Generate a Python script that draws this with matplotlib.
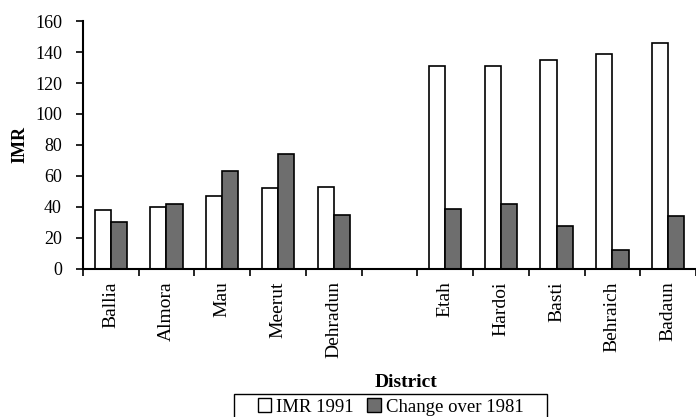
import matplotlib
matplotlib.use("Agg")
import matplotlib.pyplot as plt
import matplotlib.patches as mpatches
import numpy as np

# data; "" is the blank slot between the two groups
districts = ["Ballia", "Almora", "Mau", "Meerut", "Dehradun", "",
             "Etah", "Hardoi", "Basti", "Behraich", "Badaun"]
imr_1991 = [38, 40, 47, 52, 53, np.nan, 131, 131, 135, 139, 146]
change_1981 = [30, 42, 63, 74, 35, np.nan, 39, 42, 28, 12, 34]
yticks = [0, 20, 40, 60, 80, 100, 120, 140, 160]

_GRAY = "#6e6e6e"

plt.rcParams["font.family"] = ["Liberation Serif", "DejaVu Serif"]

fig = plt.figure(figsize=(6.96, 4.17), dpi=100)
ax = fig.add_axes([0.119, 0.355, 0.881, 0.5946])

x = np.arange(len(districts))
w = 0.29
ax.bar(x - w / 2, imr_1991, w, color="white", edgecolor="black", linewidth=1.2)
ax.bar(x + w / 2, change_1981, w, color=_GRAY, edgecolor="black", linewidth=1.2)

ax.set_xlim(-0.5, len(districts) - 0.5)
ax.set_ylim(0, 160)
ax.set_yticks(yticks)
ax.tick_params(axis="y", labelsize=13, direction="out", length=5, width=1.2, pad=10)

# category boundaries get the tick marks, labels sit at the centres
ax.set_xticks(np.arange(-0.5, len(districts), 1.0))
ax.set_xticklabels([])
ax.set_xticks(x, minor=True)
ax.set_xticklabels(districts, minor=True, rotation=90, fontsize=14)
ax.tick_params(axis="x", which="major", direction="out", length=5, width=1.2)
ax.tick_params(axis="x", which="minor", length=0, pad=9)

for s in ("top", "right"):
    ax.spines[s].set_visible(False)
for s in ("left", "bottom"):
    ax.spines[s].set_linewidth(1.5)

ax.set_ylabel("IMR", fontsize=13, fontweight="bold", labelpad=5)
fig.text(0.583, 0.082, "District", ha="center", va="center", fontsize=14, fontweight="bold")

handles = [
    mpatches.Patch(facecolor="white", edgecolor="black", label="IMR 1991"),
    mpatches.Patch(facecolor=_GRAY, edgecolor="black", label="Change over 1981"),
]
leg = fig.legend(handles=handles, loc="center", bbox_to_anchor=(0.561, 0.024),
                 ncol=2, fontsize=13.5, frameon=False,
                 handlelength=0.7, handleheight=0.7, handletextpad=0.27,
                 columnspacing=0.75, borderpad=0, borderaxespad=0)

# the frame in the reference is wider than the legend and runs off the bottom
fig.canvas.draw()
bb = leg.get_window_extent().transformed(fig.transFigure.inverted())
padx = 24 / 696
top = bb.y1 + 4 / 417
frame = mpatches.Rectangle((bb.x0 - padx, -0.05), bb.width + 2 * padx, top + 0.05,
                           transform=fig.transFigure, facecolor="none",
                           edgecolor="black", linewidth=1.0)
fig.add_artist(frame)

fig.savefig("out.png", dpi=100)
